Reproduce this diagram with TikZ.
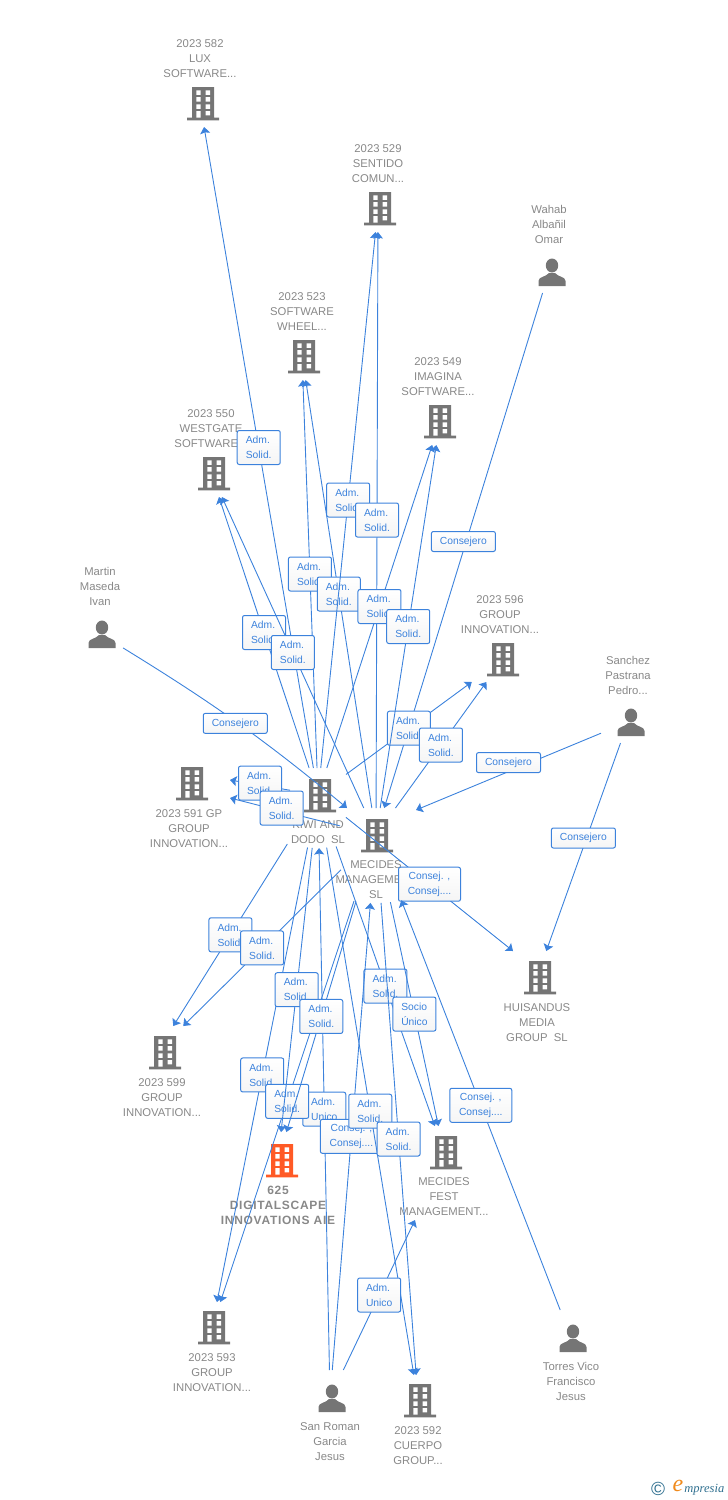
\documentclass[tikz,border=0pt]{standalone}
\usepackage{fontspec}
\setmainfont{Liberation Sans}
\newfontfamily\logofont{Liberation Serif}
\usetikzlibrary{arrows.meta}

\definecolor{linkblue}{HTML}{3C82DC}
\definecolor{iconcolor}{HTML}{757575}
\definecolor{namecolor}{HTML}{888888}
\definecolor{targetcolor}{HTML}{FF5A26}
\definecolor{logoblue}{HTML}{2F6F8F}
\definecolor{logoorange}{HTML}{F08A1C}

\tikzset{
	building/.pic={
		\path[pic actions] (-11,-16) rectangle (11,15) (-16,14.7) rectangle (16,17.3);
		\foreach \wy in {-12.7,-6,1.3}
		\fill[white] (-6.7,\wy) rectangle ++(4.4,4.6) (2.7,\wy) rectangle ++(4.4,4.6);
		\fill[white] (-6.7,8) rectangle (-2.3,14.7) (2.7,8) rectangle (7.1,12.4);
	},
	person/.pic={
		\path[pic actions] (0,-6.5) ellipse (6.2 and 7);
		\path[pic actions] (-13.5,14) -- (-13.5,9) .. controls (-13.5,4.5) and (-6,5) .. (-3,1)
			-- (3,1) .. controls (6,5) and (13.5,4.5) .. (13.5,9) -- (13.5,14) -- cycle;
	}
}

\begin{document}
\begin{tikzpicture}[x=1pt,y=-1pt,-{Stealth[length=6.5pt,width=10pt,inset=1pt]},draw=linkblue,line width=0.9pt]
	\tikzstyle{entity}=[rectangle,inner sep=0pt,outer sep=0pt]
	\tikzstyle{name text}=[text=namecolor,align=center,font=\fontsize{11.3}{15}\selectfont,inner sep=0pt]
	\tikzstyle{tag}=[rectangle,rounded corners=2pt,draw=linkblue,line width=1pt,top color=white,bottom color=black!4,
		text=linkblue,font=\fontsize{10.3}{15}\selectfont,align=left,inner sep=0pt,minimum width=43pt,minimum height=34pt]
	\tikzstyle{tag wide}=[tag,align=center,minimum width=62pt]
	\tikzstyle{tag one}=[tag,minimum width=64pt,minimum height=20pt,yshift=9pt]
	\tikzstyle{kiwi foot}=[shorten <=26pt]
	\tikzstyle{to kiwi foot}=[shorten >=26pt]
	\tikzstyle{mecides foot}=[shorten <=41pt]
	\tikzstyle{to mecides foot}=[shorten >=41pt]

	\useasboundingbox (0,0) rectangle (728,1500);

	% Companies: name / x / y / box width / box height / icon x / text x / text y / text
	\foreach \name/\x/\y/\w/\h/\ix/\tx/\ty/\txt in {
		lux/200/103/76/48/203/200/59/{2023 582\\LUX\\SOFTWARE...},
		sentido/378/208/76/48/380/378/164/{2023 529\\SENTIDO\\COMUN...},
		wheel/302/356/76/48/304/302/312/{2023 523\\SOFTWARE\\WHEEL...},
		imagina/440/421/76/48/440/438/377/{2023 549\\IMAGINA\\SOFTWARE...},
		westgate/211/473/76/48/214/211/429/{2023 550\\WESTGATE\\SOFTWARE...},
		innov596/503/659/76/46/503/500/615/{2023 596\\GROUP\\INNOVATION...},
		innov591/189/783/82/50/192/189/829/{2023 591 GP\\GROUP\\INNOVATION...},
		kiwi/318/795/56/54/320/318/832.5/{KIWI AND\\DODO~ SL},
		mecides/376/835/72/54/377/376/880/{MECIDES\\MANAGEMENT\\SL},
		huisandus/537/977/70/52/540/537/1023/{HUISANDUS\\MEDIA\\GROUP~ SL},
		innov599/157/1052/80/52/165/162/1098/{2023 599\\GROUP\\INNOVATION...},
		fest/444/1152/90/52/446/444/1197/{MECIDES\\FEST\\MANAGEMENT...},
		innov593/212/1327/80/50/214/212/1373/{2023 593\\GROUP\\INNOVATION...},
		cuerpo/418/1400/56/50/420/418/1446/{2023 592\\CUERPO\\GROUP...}}
	{
		\node[entity,minimum width=\w pt,minimum height=\h pt] (\name) at (\x,\y) {};
		\pic[fill=iconcolor] at (\ix,\y) {building};
		\node[name text] (\name-text) at (\tx,\ty) {\txt};
	}

	% People
	\foreach \name/\x/\y/\w/\h/\ix/\ty/\txt in {
		wahab/549/272/40/42/552/224/{Wahab\\Albañil\\Omar},
		martin/100/634/46/38/102/586/{Martin\\Maseda\\Ivan},
		sanchez/628/722/54/42/631/675/{Sanchez\\Pastrana\\Pedro...},
		torres/571/1338/66/56/573/1381/{Torres Vico\\Francisco\\Jesus},
		sanroman/330/1398/70/56/332/1442/{San Roman\\Garcia\\Jesus}}
	{
		\node[entity,minimum width=\w pt,minimum height=\h pt] (\name) at (\x,\y) {};
		\pic[fill=iconcolor] at (\ix,\y) {person};
		\node[name text] (\name-text) at (\x,\ty) {\txt};
	}

	% The company the picture is about
	\node[entity,minimum width=110pt,minimum height=56pt] (digital) at (278,1160) {};
	\pic[fill=targetcolor] at (282,1160) {building};
	\node[name text,font=\fontsize{12}{15}\selectfont\bfseries\addfontfeature{LetterSpace=6}] (digital-text) at (278,1205.5) {625\\DIGITALSCAPE\\INNOVATIONS AIE};

	% Upwards from the two hubs
	\path (kiwi) edge node[tag] {Adm.\\Solid.} (lux);
	\path (kiwi) edge node[tag] {Adm.\\Solid.} (wheel);
	\path (mecides) edge node[tag] {Adm.\\Solid.} (wheel);
	\path (kiwi) edge node[tag] {Adm.\\Solid.} (sentido);
	\path (mecides) edge node[tag] {Adm.\\Solid.} (sentido);
	\path (kiwi) edge node[tag] {Adm.\\Solid.} (westgate);
	\path (mecides) edge node[tag] {Adm.\\Solid.} (westgate);

	% People above the hubs
	\path (wahab) edge node[tag one] {Consejero} (mecides);
	\path (martin) edge[bend left=4] node[tag one,yshift=-9pt,xshift=-3pt] {Consejero} ([xshift=-29pt,yshift=27pt]mecides);

	\path (kiwi) edge node[tag] {Adm.\\Solid.} (innov596);
	\path (kiwi) edge node[tag] {Adm.\\Solid.} (imagina);
	\path (mecides) edge node[tag] {Adm.\\Solid.} (imagina);
	\path (mecides) edge node[tag] {Adm.\\Solid.} (innov596);

	\path (sanchez) edge node[tag one] {Consejero} ([xshift=40pt,yshift=25pt]mecides);
	\path (sanchez) edge node[tag one] {Consejero} (huisandus);

	% Sideways
	\path ([xshift=-28pt,yshift=11pt]kiwi) edge node[tag,yshift=2pt] {Adm.\\Solid.} ([yshift=3pt]innov591.east);
	\path ([xshift=-31pt,yshift=15pt]mecides) edge node[tag,pos=.53,yshift=3pt] {Adm.\\Solid.} ([yshift=-15pt]innov591.east);
	\path (kiwi) edge node[tag wide] {Consej. ,\\Consej....} ([xshift=-24pt,yshift=26pt]huisandus);

	% Downwards
	\path (kiwi) edge[kiwi foot] node[tag,pos=.553] {Adm.\\Solid.} (innov599);
	\path (mecides) edge[shorten <=11pt] node[tag,pos=.524] {Adm.\\Solid.} (innov599);
	\path (kiwi) edge[kiwi foot] node[tag,pos=.54] {Adm.\\Solid.} (fest);
	\path (mecides) edge[mecides foot] node[tag,pos=.576] {Socio\\Único} (fest);
	\path (sanroman) edge[to kiwi foot] node[tag,pos=.476] {Adm.\\Unico} (kiwi);
	\path (sanroman) edge[to mecides foot] node[tag wide,pos=.46] {Consej. ,\\Consej....} (mecides);
	\path (kiwi) edge[kiwi foot] node[tag,pos=.523] {Adm.\\Solid.} (cuerpo);
	\path (mecides) edge[mecides foot] node[tag,pos=.54] {Adm.\\Solid.} (cuerpo);
	\path (kiwi) edge[kiwi foot] node[tag,pos=.527] {Adm.\\Solid.} (innov593);
	\path (mecides) edge[mecides foot] node[tag,pos=.544] {Adm.\\Solid.} (innov593);
	\path (kiwi) edge[kiwi foot] node[tag,pos=.541] {Adm.\\Solid.} (digital);
	\path (mecides) edge[mecides foot] node[tag,pos=.572] {Adm.\\Solid.} (digital);
	\path ([xshift=8pt,yshift=28pt]sanroman) edge node[tag] {Adm.\\Unico} ([xshift=-29pt,yshift=-68pt]fest);
	\path (torres) edge[to mecides foot] node[tag wide,pos=.457] {Consej. ,\\Consej....} (mecides);

	% Logo
	\node[inner sep=0pt,text=logoblue,font=\fontsize{19}{19}\selectfont] (logo-c) at (658,1489) {©};
	\node[inner sep=0pt,text=logoorange,font=\fontsize{24}{24}\logofont\itshape] (logo-e) at (678,1486) {e};
	\node[inner sep=0pt,text=logoblue,font=\fontsize{12.5}{12.5}\logofont\itshape,anchor=west] (logo-t) at (684,1490) {mpresia};
\end{tikzpicture}
\end{document}
